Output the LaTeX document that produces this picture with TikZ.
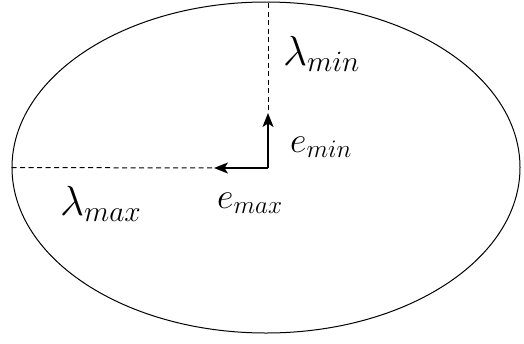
\RequirePackage{fix-cm}
\documentclass[tikz,border=0pt]{standalone}
\usetikzlibrary{arrows.meta,shapes.geometric}
\tikzset{
	slika/.style={x=1pt, y=-1pt, >={Stealth[length=14pt,width=11pt,inset=3.5pt]}},
	elipsa/.style={draw, ellipse, line width=1pt, inner sep=0pt},
	os/.style={dashed, dash pattern=on 5pt off 3.5pt, line width=1pt},
	vektor/.style={->, line width=1.5pt},
	lambda/.style={font=\fontsize{42}{48}\selectfont, inner sep=0pt, anchor=base west},
	oznaka/.style={font=\fontsize{36}{42}\selectfont, inner sep=0pt, anchor=base west},
}

\begin{document}
\begin{tikzpicture}[slika]

% ---------- okvir ----------
\useasboundingbox[fill=white] (0,0) rectangle (524,343);

% ---------- elipsa ----------
\node[elipsa, minimum width=508pt, minimum height=331pt] (oval) at (266,167.5) {};
\coordinate (sredina) at (268,168);
\coordinate (zgoraj) at (268,3);
\coordinate (konecmin) at (268,113);
\coordinate (konecmax) at (214,168);

% ---------- osi ----------
\draw[os] (oval.west) -- (konecmax);
\draw[os] (zgoraj) -- (konecmin);

% ---------- vektorja ----------
\draw[vektor] (sredina) -- (konecmin);
\draw[vektor] (sredina) -- (konecmax);

% ---------- oznake ----------
\node[lambda] (lmin) at (283,65) {$\lambda_{min}$};
\node[oznaka] (emin) at (290,152) {$e_{min}$};
\node[lambda] (lmax) at (60,215) {$\lambda_{max}$};
\node[oznaka] (emax) at (217,208) {$e_{max}$};

\end{tikzpicture}
\end{document}
